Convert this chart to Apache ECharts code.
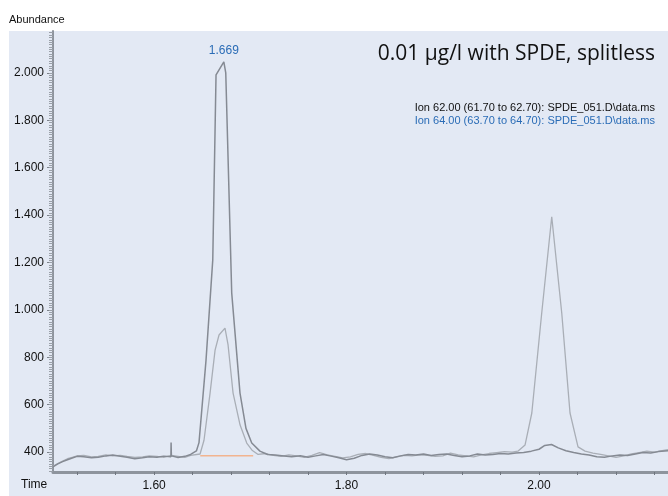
<!DOCTYPE html>
<html>
<head>
<meta charset="utf-8">
<script src="https://cdn.jsdelivr.net/npm/echarts@6/dist/echarts.min.js"></script>
<style>
  html, body { margin: 0; padding: 0; background: #fff; }
  #main { width: 668px; height: 496px; }
</style>
</head>
<body>
<div id="main"></div>
<script>
// Ion 62 trace (darker grey)
var ion62Time = [1.495, 1.500, 1.505, 1.510, 1.515, 1.520, 1.527, 1.535, 1.542, 1.550, 1.557, 1.565, 1.572, 1.580, 1.588, 1.595, 1.603, 1.610, 1.6175, 1.6177, 1.618, 1.625, 1.632, 1.638, 1.644, 1.6467, 1.654, 1.661, 1.6644, 1.6725, 1.6745, 1.6807, 1.6893, 1.6955, 1.7015, 1.710, 1.718, 1.726, 1.735, 1.743, 1.752, 1.760, 1.768, 1.776, 1.784, 1.792, 1.800, 1.808, 1.816, 1.824, 1.832, 1.840, 1.848, 1.856, 1.864, 1.872, 1.880, 1.888, 1.896, 1.904, 1.912, 1.920, 1.928, 1.936, 1.944, 1.952, 1.960, 1.968, 1.976, 1.984, 1.992, 2.000, 2.006, 2.013, 2.020, 2.028, 2.036, 2.044, 2.052, 2.060, 2.068, 2.076, 2.084, 2.092, 2.100, 2.108, 2.116, 2.124, 2.134];
var ion62Abund = [338, 350, 360, 368, 375, 382, 380, 376, 378, 384, 388, 382, 378, 372, 376, 380, 378, 383, 380, 440, 384, 377, 382, 390, 405, 440, 788, 1211, 1992, 2047, 2000, 1071, 649, 500, 438, 404, 390, 388, 384, 380, 385, 378, 384, 390, 383, 376, 368, 374, 386, 392, 388, 380, 376, 384, 390, 388, 392, 386, 390, 392, 386, 380, 384, 392, 388, 390, 394, 392, 396, 398, 404, 412, 428, 432, 418, 406, 398, 392, 388, 380, 378, 384, 388, 386, 392, 398, 396, 402, 406];

// Ion 64 trace (lighter grey)
var ion64Time = [1.495, 1.500, 1.505, 1.510, 1.515, 1.520, 1.527, 1.535, 1.542, 1.550, 1.557, 1.565, 1.572, 1.580, 1.588, 1.595, 1.603, 1.610, 1.618, 1.625, 1.632, 1.638, 1.6478, 1.6519, 1.6582, 1.6634, 1.6675, 1.6737, 1.6769, 1.6821, 1.6894, 1.6963, 1.7018, 1.7081, 1.716, 1.724, 1.732, 1.740, 1.748, 1.756, 1.764, 1.772, 1.780, 1.788, 1.796, 1.804, 1.812, 1.820, 1.828, 1.836, 1.844, 1.852, 1.860, 1.868, 1.876, 1.884, 1.892, 1.900, 1.908, 1.916, 1.924, 1.932, 1.940, 1.948, 1.956, 1.964, 1.972, 1.978, 1.9855, 1.9925, 2.0028, 2.0132, 2.0236, 2.0322, 2.0405, 2.0478, 2.056, 2.064, 2.072, 2.080, 2.088, 2.096, 2.104, 2.112, 2.120, 2.128, 2.134];
var ion64Abund = [340, 352, 362, 372, 378, 384, 386, 380, 382, 388, 384, 386, 382, 378, 380, 384, 382, 378, 386, 382, 378, 386, 392, 450, 649, 830, 894, 923, 852, 649, 514, 438, 408, 390, 394, 386, 382, 388, 384, 378, 386, 398, 388, 382, 376, 380, 390, 394, 386, 378, 372, 380, 386, 384, 388, 386, 382, 384, 396, 388, 384, 380, 388, 394, 398, 402, 400, 404, 430, 565, 987, 1393, 987, 565, 422, 404, 396, 390, 384, 378, 384, 392, 398, 404, 400, 406, 410];

// integration baseline under the first peak
var baseTime = [1.648, 1.703];
var baseAbund = [385, 385];

var yTickLabels = [400, 600, 800, 1000, 1200, 1400, 1600, 1800, 2000];
var xTickLabels = [1.60, 1.80, 2.00];
var peakLabel = '1.669';

var titleText = '0.01 µg/l with SPDE, splitless';
var legend62 = 'Ion 62.00 (61.70 to 62.70): SPDE_051.D\\data.ms';
var legend64 = 'Ion 64.00 (63.70 to 64.70): SPDE_051.D\\data.ms';

function zip(t, v) {
  var out = [];
  for (var i = 0; i < t.length; i++) out.push([t[i], v[i]]);
  return out;
}

var xMin = 1.495, xMax = 2.134, yMin = 316, yMax = 2177;
var xMinorTicks = [];
for (var k = 38; k * 0.04 <= xMax; k++) xMinorTicks.push(+(k * 0.04).toFixed(2));
var yMinorTicks = [];
for (var m = 320; m <= yMax; m += 10) yMinorTicks.push(m);

// apex of the big peak for the retention time label
var apexIdx = 0;
for (var i = 0; i < ion62Abund.length; i++) if (ion62Abund[i] > ion62Abund[apexIdx]) apexIdx = i;

var axisGrey = '#8e949d';
var labelFont = 'Liberation Sans';

var chart = echarts.init(document.getElementById('main'), null, { renderer: 'canvas' });
var option = {
  backgroundColor: '#ffffff',
  animation: false,
  graphic: [
    { type: 'rect', left: 9, top: 31, z: -10, shape: { width: 659, height: 465 }, style: { fill: '#e3e9f4' } },
    { type: 'text', left: 9, top: 14, style: { text: 'Abundance', fill: '#111', font: '11px "Liberation Sans Narrow", "Liberation Sans"' } },
    { type: 'text', left: 21, top: 479, style: { text: 'Time', fill: '#111', font: '12px "Liberation Sans Narrow", "Liberation Sans"' } },
    { type: 'text', right: 13, top: 44, style: { text: titleText, fill: '#111', font: '21px "Open Sans"' } },
    { type: 'text', right: 13, top: 102, style: { text: legend62, fill: '#111', font: '11px "Liberation Sans Narrow", "Liberation Sans"' } },
    { type: 'text', right: 13, top: 115, style: { text: legend64, fill: '#2a6cb6', font: '11px "Liberation Sans Narrow", "Liberation Sans"' } }
  ],
  grid: { left: 53, right: 0, top: 31, bottom: 24, containLabel: false },
  xAxis: {
    type: 'value', min: xMin, max: xMax,
    axisLine: { show: true, onZero: false, lineStyle: { color: axisGrey, width: 3 } },
    axisTick: { show: true, length: 3, customValues: xMinorTicks, lineStyle: { color: '#6f757e', width: 1 } },
    axisLabel: { customValues: xTickLabels, color: '#111', fontSize: 12, fontFamily: labelFont, margin: 8,
      formatter: function (v) { return v.toFixed(2); } },
    splitLine: { show: false }
  },
  yAxis: [{
    type: 'value', min: yMin, max: yMax,
    axisLine: { show: true, lineStyle: { color: axisGrey, width: 2 } },
    axisTick: { show: true, length: 6, customValues: yTickLabels, lineStyle: { color: '#7d838c' } },
    axisLabel: { customValues: yTickLabels, color: '#111', fontSize: 12, fontFamily: labelFont, margin: 9,
      formatter: function (v) { return v >= 1000 ? (v / 1000).toFixed(3) : String(v); } },
    splitLine: { show: false }
  }, {
    type: 'value', min: yMin, max: yMax, position: 'left',
    axisLine: { show: false },
    axisTick: { show: true, length: 4, customValues: yMinorTicks, lineStyle: { color: '#9aa0a8' } },
    axisLabel: { show: false },
    splitLine: { show: false }
  }],
  series: [{
    name: 'Ion 62', type: 'line', data: zip(ion62Time, ion62Abund),
    showSymbol: false, symbol: 'none', z: 4,
    lineStyle: { color: '#858a93', width: 1.5 },
    markPoint: {
      symbol: 'circle', symbolSize: 0,
      label: { show: true, position: 'top', distance: 5, color: '#2a6cb6', fontSize: 12, fontFamily: labelFont,
        formatter: function () { return peakLabel; } },
      data: [{ coord: [ion62Time[apexIdx], ion62Abund[apexIdx]] }]
    }
  }, {
    name: 'Ion 64', type: 'line', data: zip(ion64Time, ion64Abund),
    showSymbol: false, symbol: 'none', z: 3,
    lineStyle: { color: '#a9aeb6', width: 1.3 }
  }, {
    name: 'baseline', type: 'line', data: zip(baseTime, baseAbund),
    showSymbol: false, symbol: 'none', z: 2,
    lineStyle: { color: '#f2b48f', width: 1.5 }
  }]
};
chart.setOption(option);
</script>
</body>
</html>
